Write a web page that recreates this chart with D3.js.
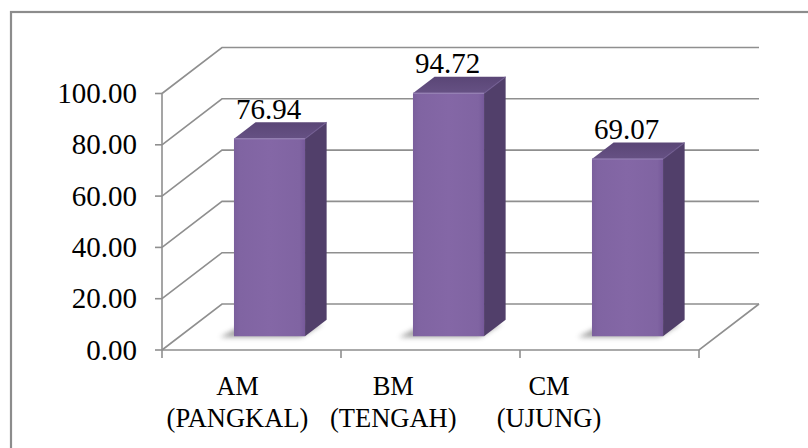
<!DOCTYPE html>
<html>
<head>
<meta charset="utf-8">
<script src="https://cdn.jsdelivr.net/npm/d3@7"></script>
<style>
  html, body { margin: 0; padding: 0; background: #fff; }
  svg { display: block; }
</style>
</head>
<body>
<div id="chart"></div>
<script>
// Chart data
const categories = ["AM (PANGKAL)", "BM (TENGAH)", "CM (UJUNG)"];
const labelLine1 = ["AM", "BM", "CM"];
const labelLine2 = ["(PANGKAL)", "(TENGAH)", "(UJUNG)"];
const values = [76.94, 94.72, 69.07];
const yTicks = [0, 20, 40, 60, 80, 100];

const W = 808, H = 448;
const FONT = '"Liberation Serif", "Times New Roman", serif';
const svg = d3.select("#chart").append("svg").attr("width", W).attr("height", H);

// Oblique 3D box: front plane plus a depth offset toward the back wall
const front = { left: 162, right: 699, bottom: 350, top: 93.5 };
const depth = { dx: 60, dy: -46 };
const barDepth = [0.3, 0.66];   // bar front / back as fraction of box depth

const x = d3.scaleBand().domain(categories)
  .range([front.left, front.right]).paddingInner(0.603).paddingOuter(0.3015);
const xCat = d3.scaleBand().domain(categories).range([front.left, front.right]);
const y = d3.scaleLinear().domain([0, 100]).range([front.bottom, front.top]);
const xLabel = d3.scalePoint().domain(categories).range([237.5, 549]);

const P = (px, py, d) => [px + d * depth.dx, py + d * depth.dy];
const poly = pts => "M" + pts.map(p => p.join(",")).join("L") + "Z";

const defs = svg.append("defs");
defs.append("filter").attr("id", "shadowBlur")
  .attr("x", "-50%").attr("y", "-50%").attr("width", "200%").attr("height", "200%")
  .append("feGaussianBlur").attr("stdDeviation", 2.5);
const gFront = defs.append("linearGradient").attr("id", "frontGrad")
  .attr("x1", 0).attr("x2", 1).attr("y1", 0).attr("y2", 0);
gFront.append("stop").attr("offset", "0%").attr("stop-color", "#7a5f9c");
gFront.append("stop").attr("offset", "8%").attr("stop-color", "#8064a2");
gFront.append("stop").attr("offset", "50%").attr("stop-color", "#8467a6");
gFront.append("stop").attr("offset", "92%").attr("stop-color", "#8064a2");
gFront.append("stop").attr("offset", "100%").attr("stop-color", "#76599a");
const gTop = defs.append("linearGradient").attr("id", "topGrad")
  .attr("x1", 0).attr("x2", 0).attr("y1", 1).attr("y2", 0);
gTop.append("stop").attr("offset", "0%").attr("stop-color", "#665184");
gTop.append("stop").attr("offset", "100%").attr("stop-color", "#5a4676");

// Outer chart border
svg.append("rect").attr("x", 11).attr("y", 12)
  .attr("width", W + 20).attr("height", H + 20)
  .attr("fill", "none").attr("stroke", "#8c8c8c").attr("stroke-width", 2.2);

const grid = svg.append("g").attr("stroke", "#8f8f8f").attr("stroke-width", 1.6).attr("fill", "none");

// Back wall and side wall gridlines
yTicks.forEach(t => {
  const a = [front.left, y(t)];
  const b = P(front.left, y(t), 1);
  const c = P(front.right, y(t), 1);
  grid.append("path").attr("d", `M${a}L${b}L${c}`);
});
// Floor outline
grid.append("path").attr("d",
  `M${[front.left, front.bottom]}L${[front.right, front.bottom]}L${P(front.right, front.bottom, 1)}`);

// Front value axis with ticks
grid.append("line").attr("x1", front.left).attr("x2", front.left)
  .attr("y1", y(100)).attr("y2", front.bottom + 8);
yTicks.forEach(t => {
  grid.append("line").attr("x1", front.left - 7).attr("x2", front.left)
    .attr("y1", y(t)).attr("y2", y(t));
});
// Category boundary ticks
categories.forEach(c => {
  const xr = xCat(c) + xCat.bandwidth();
  grid.append("line").attr("x1", xr).attr("x2", xr)
    .attr("y1", front.bottom).attr("y2", front.bottom + 8);
});

// Value axis labels
svg.append("g").selectAll("text").data(yTicks).join("text")
  .attr("font-family", FONT)
  .attr("x", 137).attr("y", d => y(d) + 9.5)
  .attr("text-anchor", "end").attr("font-size", 29)
  .text(d => d3.format(".2f")(d));

// Bars
const bars = svg.append("g");
categories.forEach((c, i) => {
  const v = values[i];
  const x0 = x(c), x1 = x(c) + x.bandwidth();
  const [d0, d1] = barDepth;
  const fbl = P(x0, y(0), d0), fbr = P(x1, y(0), d0);
  const ftl = P(x0, y(v), d0), ftr = P(x1, y(v), d0);
  const bbr = P(x1, y(0), d1), btl = P(x0, y(v), d1), btr = P(x1, y(v), d1);
  const bbl = P(x0, y(0), d1);
  const g = bars.append("g");
  // soft shadow on the floor
  g.append("path")
    .attr("d", poly([[fbl[0] - 14, fbl[1] + 1], [fbr[0] - 4, fbr[1] + 1], [bbr[0] - 4, bbr[1] + 4], [bbl[0] - 10, bbl[1] + 4]]))
    .attr("fill", "#555").attr("opacity", 0.55).attr("filter", "url(#shadowBlur)");
  g.append("path").attr("d", poly([fbr, ftr, btr, bbr])).attr("fill", "#513f6a");
  g.append("path").attr("d", poly([ftl, ftr, btr, btl])).attr("fill", "url(#topGrad)");
  g.append("path").attr("d", poly([fbl, fbr, ftr, ftl])).attr("fill", "url(#frontGrad)");
  // light bevel along the top edges
  g.append("path").attr("d", `M${ftl}L${ftr}`).attr("stroke", "#9580b4").attr("stroke-width", 1.5).attr("opacity", 0.8);
  g.append("path").attr("d", `M${ftr}L${btr}`).attr("stroke", "#6f5a90").attr("stroke-width", 1.2).attr("opacity", 0.8);

  // value label
  svg.append("text").attr("font-family", FONT)
    .attr("x", (ftl[0] + ftr[0]) / 2 - 1).attr("y", btl[1] - 3.5)
    .attr("text-anchor", "middle").attr("font-size", 29)
    .text(d3.format(".2f")(v));
});

// Category labels
const cat = svg.append("g");
categories.forEach((c, i) => {
  const t = cat.append("text").attr("font-family", FONT)
    .attr("text-anchor", "middle").attr("font-size", 26.5);
  t.append("tspan").attr("x", xLabel(c)).attr("y", 395).text(labelLine1[i]);
  t.append("tspan").attr("x", xLabel(c)).attr("y", 427).text(labelLine2[i]);
});
</script>
</body>
</html>
